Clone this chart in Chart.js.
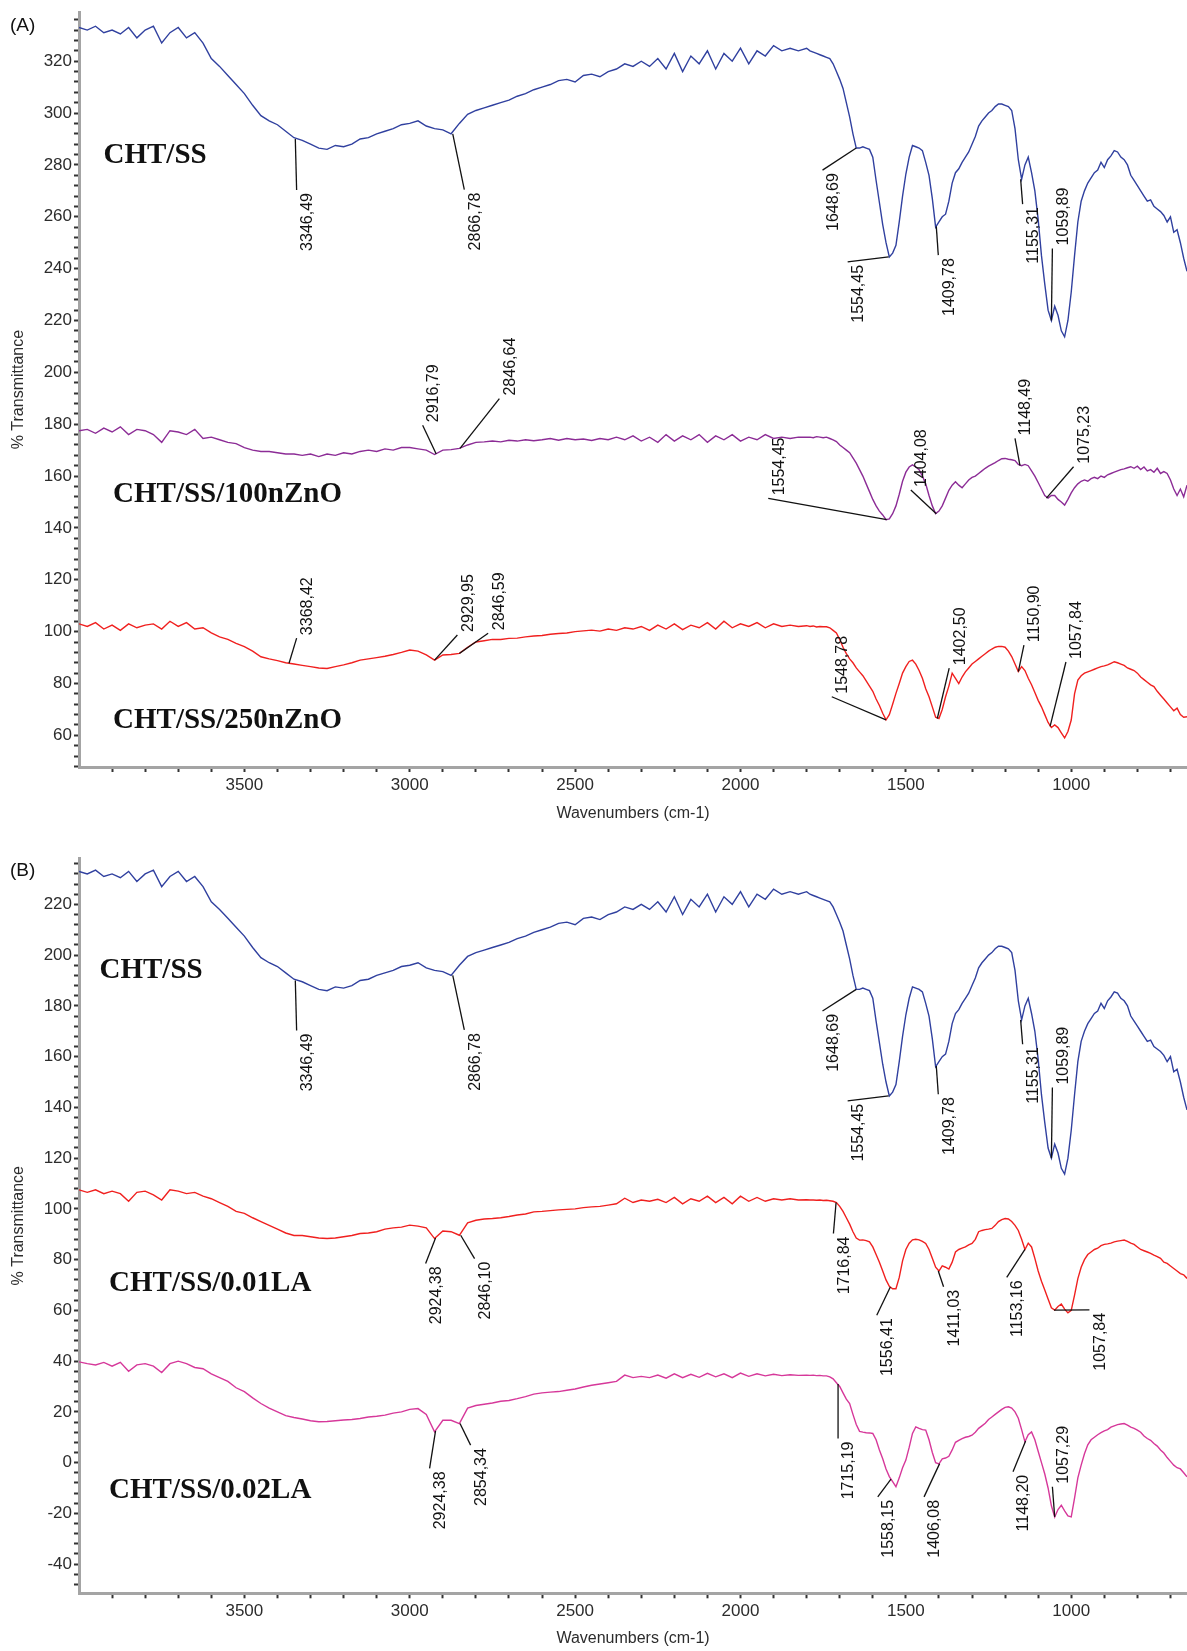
<!DOCTYPE html>
<html>
<head>
<meta charset="utf-8">
<script src="https://cdn.jsdelivr.net/npm/chart.js@4.4.1/dist/chart.umd.min.js"></script>
<style>
  html, body { margin: 0; padding: 0; background: #fff; }
  body { width: 1187px; height: 1651px; position: relative; overflow: hidden; font-family: "Liberation Sans", Arial, sans-serif; }
  canvas { position: absolute; left: 0; }
  .tag { position: absolute; left: 10px; font-size: 19px; line-height: 22px; color: #111; }
</style>
</head>
<body>
<canvas id="chartA" width="1187" height="830" style="top:0"></canvas>
<canvas id="chartB" width="1187" height="805" style="top:846px"></canvas>
<div class="tag" style="top:14px">(A)</div>
<div class="tag" style="top:859px">(B)</div>
<script>
// wavenumber grid (cm-1), shared by every trace
const wavenumbers = [
  4000,3975,3950,3925,3900,3875,3850,3825,3800,3775,
  3750,3725,3700,3675,3650,3625,3600,3575,3550,3525,
  3500,3475,3450,3425,3400,3375,3350,3325,3300,3275,
  3250,3225,3200,3175,3150,3125,3100,3075,3050,3025,
  3000,2975,2950,2925,2900,2875,2850,2825,2800,2775,
  2750,2725,2700,2675,2650,2625,2600,2575,2550,2525,
  2500,2475,2450,2425,2400,2375,2350,2325,2300,2275,
  2250,2225,2200,2175,2150,2125,2100,2075,2050,2025,
  2000,1975,1950,1925,1900,1875,1850,1825,1800,
  1790,1780,1770,1760,1750,1740,1730,1720,1710,1700,
  1690,1680,1670,1660,1650,1640,1630,1620,1610,1600,
  1590,1580,1570,1560,1550,1540,1530,1520,1510,1500,
  1490,1480,1470,1460,1450,1440,1430,1420,1410,1400,
  1390,1380,1370,1360,1350,1340,1330,1320,1310,1300,
  1290,1280,1270,1260,1250,1240,1230,1220,1210,1200,
  1190,1180,1170,1160,1150,1140,1130,1120,1110,1100,
  1090,1080,1070,1060,1050,1040,1030,1020,1010,1000,
  990,980,970,960,950,940,930,920,910,900,
  890,880,870,860,850,840,830,820,810,800,
  790,780,770,760,750,740,730,720,710,700,
  690,680,670,660,650
];

// panel A, % transmittance (offset traces)
const chtSsA = [
  333,332,333.5,331,332,330.5,333,329,332,333.5,
  327,331,333,329,331,327,321,318,314.5,311,
  307.5,303,299,297,295.5,293,290.5,289.5,288,286.5,
  286,287.5,287,288,290,290.5,292,293,294,295.5,
  296,297,295,294,293.5,292,296,299.5,301,302,
  303,304,305,306.5,307.5,309,310,311,312.5,313,
  312,314.5,315,314,316,317,319,318,320,318,
  321,317,323,316,322,319,324,317,323,320,
  325,319,324,322,326,324,325,324,325,
  324,323.5,323,322.5,322,321.5,321,319,316,313,
  309.5,304,298.5,292,286.5,286.5,287,286.5,286,283,
  274,265.5,257,250,244.5,246,249,258,268,276.5,
  283,287.5,287,286.5,285.5,281,276,267,256,258,
  260,261,266,273,277,278.5,281,283,285,288,
  291,295,297,298.5,300,301,302.5,303.5,303.5,303,
  302.5,301,294,282,274.5,280,283,277,270,259,
  245,234,224,220,225.5,222,216,213.7,220,231,
  245,258,266,270,273,275,277,278,281,279,
  282,283.5,285.5,285,283,282,280,276,274,272,
  270,268,266,266.5,264,263,262,260.5,258,260,
  254,255,250,244,239
];
const nZnO100 = [
  177.5,178,176.5,178.5,177,179,176,178,177.5,176,
  173,177.5,177,176,178,174.5,175,174,173,172.5,
  171,170,169.5,169.5,169,168.5,168.5,168,168.5,167.5,
  168.5,168,169,168.5,169.5,170,169.5,170.5,170,171,
  171,170.5,170,168.3,170,170.2,170.7,172,173,173.2,
  173.5,173.2,173.8,173.5,174,173.6,174,174.5,173.8,174.5,
  174,174.3,173.7,174.5,174,175,174,175.5,173.5,175,
  173,176,173.5,175.5,174,176,173,175.5,174,176,
  173.5,175,174,176,174.5,175,174.5,175,175,
  175,174.8,175.2,175,174.8,175,174.5,174,173.3,172,
  171,170,169,167,165,162.5,160,157,154,151,
  148.5,146.5,145,143.2,143.5,145.5,148.5,153,158,161.5,
  163.5,164.3,163.5,162.5,160,157,152.5,148.5,145.5,146.5,
  148.5,151.5,154.5,156.5,157.8,156.5,155.5,157,158.5,159.5,
  160,161,162,163,163.8,164.5,165.2,166,166.7,166.8,
  166.5,166.3,166,164.5,164,164.5,164,162,160,157.5,
  155,152.5,151.5,152.5,152.5,151,150,148.8,151,153.5,
  155.5,157,158,158.5,158,159,159.5,159,160,159.5,
  160.5,161,161.5,162,162.5,162.8,163.2,163.6,163,163.8,
  162.5,163.5,162,162.5,161.5,163,161,161.7,161,158.5,
  155,152.5,155,152,156.5
];
const nZnO250 = [
  103,102,103.5,101,102.5,100.5,103,101.5,102.5,103,
  101,104,102,103.5,101,101.5,99.5,98,97,95.5,
  94.2,92.5,90.3,89.5,88.8,88,87.5,87,86.5,86,
  85.8,86.5,87.2,88,89,89.5,90,90.5,91.2,92,
  92.9,92.5,91,89,91,91.2,91.6,94,96,96.5,
  97,97,97.4,97.5,98,98.3,98.5,99,99.3,99.5,
  100,100.3,100.6,100.2,101,100.5,101.5,101,102,100.5,
  102.5,101,103,100.8,102.5,101.5,103.5,101,104,101.5,
  103,102,103.5,101.5,103,102,102.5,102,102.3,
  102,102.2,101.8,102,101.9,101.9,101.5,100.5,99.5,97,
  94,91.5,89.5,88,86,84.5,83,81,79,77,
  74,71.5,68.5,66,68,72,76.2,80,84,86.5,
  88.5,89,87.5,85,82,78,74.9,71,67,66.5,
  70,74.9,79,84,82,80,82.5,84.5,86,87.5,
  88.5,89.5,90.5,91.5,92.5,93.3,94,94.3,94.3,94,
  92.5,90.4,87.5,84.6,86.5,85,82,79.5,76.5,73.5,
  71,68,65,63,64,63,61,59,61.5,65.9,
  76,81.3,83,84,84.5,85,85.5,86,86.5,86.8,
  87.2,87.8,88.4,88,87.5,87,86,85.5,85,84,
  82.5,81.5,80.5,79.5,78.8,77,75.5,74,72.5,71,
  69.5,70.5,68,67,67.2
];

// panel B
const chtSsB = [
  233,232,233.5,231,232,230.5,233,229,232,233.5,
  227,231,233,229,231,227,221,218,214.5,211,
  207.5,203,199,197,195.5,193,190.5,189.5,188,186.5,
  186,187.5,187,188,190,190.5,192,193,194,195.5,
  196,197,195,194,193.5,192,196,199.5,201,202,
  203,204,205,206.5,207.5,209,210,211,212.5,213,
  212,214.5,215,214,216,217,219,218,220,218,
  221,217,223,216,222,219,224,217,223,220,
  225,219,224,222,226,224,225,224,225,
  224,223.5,223,222.5,222,221.5,221,219,216,213,
  209.5,204,198.5,192,186.5,186.5,187,186.5,186,183,
  174,165.5,157,150,144.5,146,149,158,168,176.5,
  183,187.5,187,186.5,185.5,181,176,167,156,158,
  160,161,166,173,177,178.5,181,183,185,188,
  191,195,197,198.5,200,201,202.5,203.5,203.5,203,
  202.5,201,194,182,174.5,180,183,177,170,159,
  145,134,124,120,125.5,122,116,113.7,120,131,
  145,158,166,170,173,175,177,178,181,179,
  182,183.5,185.5,185,183,182,180,176,174,172,
  170,168,166,166.5,164,163,162,160.5,158,160,
  154,155,150,144,139
];
const la001 = [
  107.5,106.5,107.5,106,107,106,103,106.5,107,105.5,
  103.5,107.5,107,106,106.5,105,104,102.5,101,99,
  98.2,96.5,95,93.5,92,90.5,89.5,89.5,89,88.5,
  88.3,88.5,89,89.5,90.3,90.5,91,92,92.5,92.8,
  93.6,93.2,92.5,88.3,91.3,91,89.6,94.5,95.5,96,
  96.2,96.5,97,97.6,98,98.8,99,99.3,99.6,99.8,
  100,100.5,100.8,101,101.5,102,104.2,102.5,103.5,103,
  103.8,102.5,104.5,102,104,103,105,102.5,104.5,102,
  105,103,104.5,103,104,103.5,104,103.5,103.6,
  103.5,103.5,103.4,103.5,103.3,103.4,103.2,103,102.5,101,
  99,96.5,94,91,88.5,87.7,87.8,87.5,87,85,
  82,79,75.5,72,69.5,68.5,68.5,73,79.5,84,
  86.5,87.8,88,87.8,87.2,86.4,84,80.5,77,75.5,
  77.5,77,76.3,79,83,84,84.5,85,85.8,86.4,
  88,91,91.5,91.8,92,92.3,93.5,95,95.8,96.2,
  96,95,93.5,91.5,88,84,86.5,85,80.5,75.5,
  71.5,68,64.5,61,60.1,61.5,62.5,60.5,59,60,
  66,72.5,77,80,82,83,84,84.5,85.5,86,
  86.2,86.5,87,87.3,87.5,87.7,87.2,86.5,86,85,
  84,83.5,83,82.5,81.8,81.2,80.5,79,78.5,77.5,
  76.5,75.5,74.5,74,72.6
];
const la002 = [
  39.7,39,38.5,39.5,38,39.5,36,38.5,39,38,
  35.5,39,40,39,37.5,37,35,33.5,32,29.5,
  28,25.5,23.3,21.5,20,18.5,17.8,17.2,16.5,16.1,
  16.2,16.5,16.8,17,17.4,18,18.3,18.7,19.5,20,
  21,21.3,19,12.1,16.7,16.7,15.4,21.5,22.5,23,
  23.5,24.2,24.5,25.2,26,27,27.5,27.8,28,28.5,
  29,29.8,30.5,31,31.5,32,34.5,33.5,34,33.5,
  34.5,33.3,35,33.5,34.8,33.6,35.2,33.8,35,33.5,
  35.3,34,35,34.2,34.8,34.3,34.6,34.4,34.5,
  34.4,34.5,34.3,34.4,34.2,34.2,33.8,33,31.5,30,
  27.5,25,23.3,19,15,12.3,12,11.8,11.7,11.5,
  9,5,1.5,-2.5,-5.5,-7.5,-9.5,-6,-2,1,
  6,11.5,14.1,13.5,13,12.8,9,4,0,-0.5,
  1.5,1.8,2.5,5,8,8.8,9.5,10,10.3,10.8,
  12,13.5,14.5,15.5,17,18,19,20,21,21.8,
  22,21.5,20,17.5,13,8.2,11,12.1,9,4.5,
  0,-4.5,-10,-17,-21.4,-18.5,-16.8,-19,-21,-21.4,
  -14,-6,-1,3.5,7,9,10,11,11.8,12.5,
  13,14,14.5,15,15.2,15.4,14.8,14,13.5,12.8,
  12,10.5,9.5,8.8,7.5,6.5,5,3.8,2,0.5,
  -1,-2,-2.5,-4,-5.6
];

// axis tick labels
const xTickLabels = [1000, 1500, 2000, 2500, 3000, 3500];
const yTickLabelsA = [60, 80, 100, 120, 140, 160, 180, 200, 220, 240, 260, 280, 300, 320];
const yTickLabelsB = [-40, -20, 0, 20, 40, 60, 80, 100, 120, 140, 160, 180, 200, 220];

// sample names: text, wavenumber, %T of the text's left/middle
const samplesA = [
  ["CHT/SS", 3926, 283.8],
  ["CHT/SS/100nZnO", 3897, 152.7],
  ["CHT/SS/250nZnO", 3897, 65.9],
];
const samplesB = [
  ["CHT/SS", 3938, 194.1],
  ["CHT/SS/0.01LA", 3909, 70.6],
  ["CHT/SS/0.02LA", 3909, -10.9],
];

// peak labels: text, peak wn, peak %T, leader end wn, leader end %T, side of the text
const peaksA = [
  ["3346,49", 3346, 290, 3342, 270.3, "below"],
  ["2866,78", 2870, 292, 2835, 270.5, "below"],
  ["1648,69", 1650, 286.5, 1752, 278, "below"],
  ["1554,45", 1552, 244.5, 1676, 242.6, "below"],
  ["1409,78", 1408, 256.3, 1402, 245.2, "below"],
  ["1155,31", 1153, 274.5, 1147, 264.9, "below"],
  ["1059,89", 1060, 220, 1057, 247.8, "above"],
  ["2916,79", 2920, 168.5, 2961, 179.6, "above"],
  ["2846,64", 2848, 170.7, 2729, 189.9, "above"],
  ["1554,45", 1558, 143.2, 1916, 151.4, "above"],
  ["1404,08", 1408, 145.5, 1485, 154.6, "above"],
  ["1148,49", 1155, 164, 1170, 174.5, "above"],
  ["1075,23", 1075, 151.5, 993, 163.6, "above"],
  ["3368,42", 3365, 87.8, 3342, 97.5, "above"],
  ["2929,95", 2925, 89, 2856, 98.7, "above"],
  ["2846,59", 2850, 91.6, 2763, 99.4, "above"],
  ["1548,78", 1560, 66, 1724, 74.9, "above"],
  ["1402,50", 1405, 66.5, 1369, 85.9, "above"],
  ["1150,90", 1160, 84.6, 1143, 94.8, "above"],
  ["1057,84", 1064, 63.5, 1016, 88.3, "above"],
];
const peaksB = [
  ["3346,49", 3346, 190, 3342, 170.3, "below"],
  ["2866,78", 2870, 192, 2835, 170.5, "below"],
  ["1648,69", 1650, 186.5, 1752, 178, "below"],
  ["1554,45", 1552, 144.5, 1676, 142.6, "below"],
  ["1409,78", 1408, 156.3, 1402, 145.2, "below"],
  ["1155,31", 1153, 174.5, 1147, 164.9, "below"],
  ["1059,89", 1060, 120, 1057, 147.8, "above"],
  ["2924,38", 2922, 88.5, 2952, 78.5, "below"],
  ["2846,10", 2846, 89.6, 2804, 80.4, "below"],
  ["1716,84", 1711, 102.5, 1719, 90.3, "below"],
  ["1556,41", 1547, 69.2, 1588, 58.1, "below"],
  ["1411,03", 1402, 75.5, 1386, 69.3, "below"],
  ["1153,16", 1140, 84, 1195, 73, "below"],
  ["1057,84", 1052, 60.1, 945, 60.2, "below"],
  ["2924,38", 2922, 12.5, 2940, -2.3, "below"],
  ["2854,34", 2848, 15.4, 2816, 6.9, "below"],
  ["1715,19", 1705, 31, 1705, 9.5, "below"],
  ["1558,15", 1545, -6.5, 1585, -13.5, "below"],
  ["1406,08", 1398, -0.4, 1445, -13.5, "below"],
  ["1148,20", 1138, 8.5, 1176, -3.6, "below"],
  ["1057,29", 1050, -21.4, 1057, -9.5, "above"],
];

const TICK_FONT = '"Liberation Sans", Arial, sans-serif';
const INK = "#2c2c2c";

const toPoints = (values) => {
  if (values.length !== wavenumbers.length) console.warn("length mismatch", values.length);
  return wavenumbers.map((w, i) => ({ x: w, y: values[i] }));
};

const tickRange = (from, to, step) => {
  const ticks = [];
  for (let v = from; v <= to; v += step) ticks.push({ value: v });
  return ticks;
};

// draws the peak leaders, rotated peak numbers and the sample names
const makeLabelPlugin = (peaks, samples) => ({
  id: "peakLabels",
  afterDatasetsDraw(chart) {
    const { ctx, scales: { x, y } } = chart;
    ctx.save();
    ctx.strokeStyle = "#111";
    ctx.fillStyle = "#111";
    ctx.lineWidth = 1.3;
    ctx.font = "16px " + TICK_FONT;
    ctx.textBaseline = "middle";
    peaks.forEach(([text, pw, pv, ew, ev, side]) => {
      const ex = x.getPixelForValue(ew);
      const ey = y.getPixelForValue(ev);
      ctx.beginPath();
      ctx.moveTo(x.getPixelForValue(pw), y.getPixelForValue(pv));
      ctx.lineTo(ex, ey);
      ctx.stroke();
      ctx.save();
      ctx.translate(ex + 11, side === "below" ? ey + 3 : ey - 3);
      ctx.rotate(-Math.PI / 2);
      ctx.textAlign = side === "below" ? "right" : "left";
      ctx.fillText(text, 0, 0);
      ctx.restore();
    });
    ctx.font = 'bold 29px "Liberation Serif", "Times New Roman", serif';
    ctx.textAlign = "left";
    samples.forEach(([text, w, v]) => {
      ctx.fillText(text, x.getPixelForValue(w), y.getPixelForValue(v));
    });
    ctx.restore();
  },
});

const makeChart = (canvasId, cfg) => {
  const line = (values, color) => ({
    data: toPoints(values),
    borderColor: color,
    borderWidth: 1.4,
    pointRadius: 0,
    tension: 0,
  });

  return new Chart(document.getElementById(canvasId), {
    type: "line",
    data: { datasets: cfg.series.map(([values, color]) => line(values, color)) },
    plugins: [makeLabelPlugin(cfg.peaks, cfg.samples)],
    options: {
      responsive: false,
      animation: false,
      devicePixelRatio: 1,
      events: [],
      layout: { padding: { top: 12, right: 0, bottom: 0, left: 0 } },
      plugins: { legend: { display: false }, tooltip: { enabled: false } },
      scales: {
        x: {
          type: "linear",
          reverse: true,
          min: 650,
          max: 4000,
          afterFit: (scale) => { scale.height = cfg.xAxisHeight; },
          afterBuildTicks: (scale) => { scale.ticks = tickRange(700, 3900, 100); },
          ticks: {
            autoSkip: false,
            maxRotation: 0,
            padding: 3,
            color: INK,
            font: { family: TICK_FONT, size: 17 },
            callback: (v) => (xTickLabels.includes(v) ? String(v) : ""),
          },
          grid: { drawOnChartArea: false, drawTicks: true, tickLength: 5, tickColor: "#333", tickWidth: 2 },
          border: { display: true, color: "#a4a4a4", width: 3 },
          title: {
            display: true,
            text: "Wavenumbers (cm-1)",
            color: INK,
            font: { family: TICK_FONT, size: 16 },
            padding: { top: 0, bottom: cfg.xTitlePad },
          },
        },
        y: {
          type: "linear",
          min: cfg.yMin,
          max: cfg.yMax,
          afterFit: (scale) => { scale.width = 79; },
          afterBuildTicks: (scale) => { scale.ticks = tickRange(cfg.minorFrom, cfg.minorTo, 4); },
          ticks: {
            autoSkip: false,
            padding: 2,
            color: INK,
            font: { family: TICK_FONT, size: 17 },
            callback: (v) => (cfg.yLabels.includes(v) ? String(v) : ""),
          },
          grid: { drawOnChartArea: false, drawTicks: true, tickLength: 5, tickColor: "#333", tickWidth: 2 },
          border: { display: true, color: "#a4a4a4", width: 3 },
          title: {
            display: true,
            text: "% Transmittance",
            color: INK,
            font: { family: TICK_FONT, size: 16 },
            padding: { top: 9, bottom: 0 },
          },
        },
      },
    },
  });
};

makeChart("chartA", {
  series: [[chtSsA, "#30409f"], [nZnO100, "#8c2c96"], [nZnO250, "#f0201f"]],
  peaks: peaksA,
  samples: samplesA,
  yMin: 47.8,
  yMax: 338.9,
  minorFrom: 48,
  minorTo: 336,
  yLabels: yTickLabelsA,
  xAxisHeight: 63,
  xTitlePad: 6.5,
});

makeChart("chartB", {
  series: [[chtSsB, "#30409f"], [la001, "#f0201f"], [la002, "#d6389a"]],
  peaks: peaksB,
  samples: samplesB,
  yMin: -51.5,
  yMax: 238.2,
  minorFrom: -48,
  minorTo: 236,
  yLabels: yTickLabelsB,
  xAxisHeight: 57.7,
  xTitlePad: 2.5,
});
</script>
</body>
</html>
